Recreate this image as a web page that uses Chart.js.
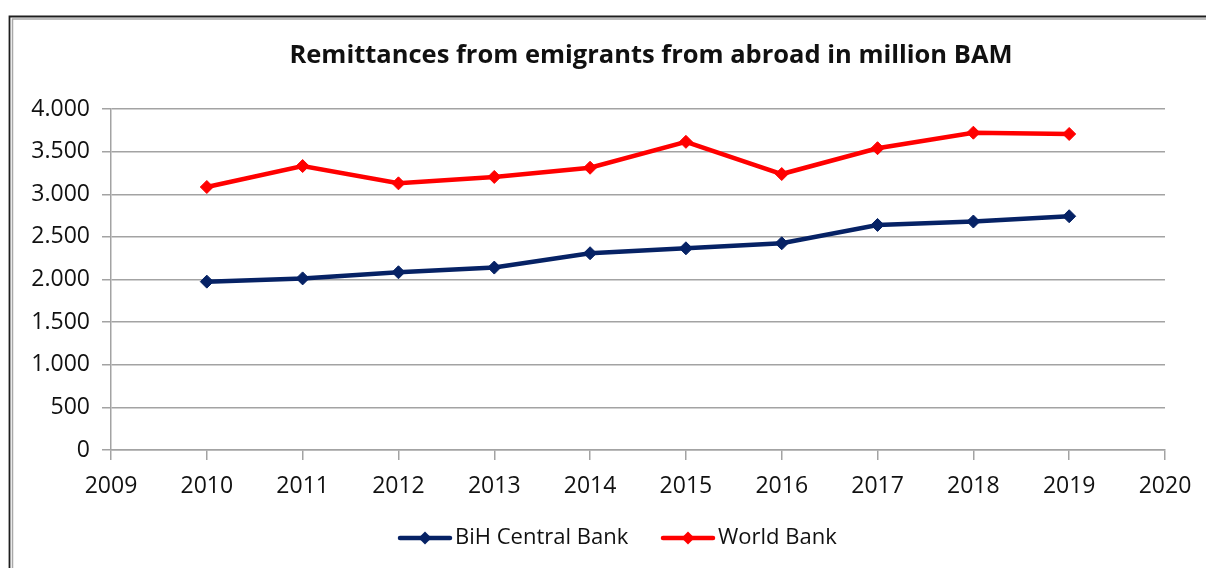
<!DOCTYPE html>
<html>
<head>
<meta charset="utf-8">
<style>
  html, body { margin: 0; padding: 0; background: #ffffff; }
  #wrap { width: 1206px; height: 568px; position: relative; }
</style>
<script src="https://cdn.jsdelivr.net/npm/chart.js@4/dist/chart.umd.min.js"></script>
</head>
<body>
<div id="wrap"><canvas id="chart" width="1206" height="568"></canvas></div>
<script>
// Remittances from emigrants from abroad, million BAM
const years = [2010, 2011, 2012, 2013, 2014, 2015, 2016, 2017, 2018, 2019];
const centralBank = [1975, 2013, 2085, 2140, 2308, 2366, 2425, 2640, 2680, 2742];
const worldBank = [3085, 3331, 3128, 3203, 3311, 3615, 3237, 3540, 3722, 3707];
const seriesNames = ['BiH Central Bank', 'World Bank'];
const titleText = 'Remittances from emigrants from abroad in million BAM';
const xMin = 2009, xMax = 2020;
const yMin = 0, yMax = 4000, yStep = 500;

const FONT = '"Open Sans", "DejaVu Sans", sans-serif';
const NAVY = '#062265';
const RED = '#ff0000';
const GRID = '#a3a3a3';

const toPoints = vals => years.map((y, i) => ({ x: y, y: vals[i] }));
const thousands = v => {
  const s = String(Math.round(v));
  return s.replace(/\B(?=(\d{3})+(?!\d))/g, '.');
};

// Frame edges (left and top) around the chart object, plus the title
const framePlugin = {
  id: 'frame',
  beforeDraw(chart) {
    const ctx = chart.ctx;
    ctx.save();
    ctx.fillStyle = '#ffffff';
    ctx.fillRect(0, 0, chart.width, chart.height);
    // light inner edge
    ctx.strokeStyle = '#a8a8a8';
    ctx.lineWidth = 1.5;
    ctx.beginPath();
    ctx.moveTo(12.5, chart.height);
    ctx.lineTo(12.5, 19);
    ctx.lineTo(chart.width, 19);
    ctx.stroke();
    // dark outer edge
    ctx.strokeStyle = '#1e1e1e';
    ctx.lineWidth = 1.8;
    ctx.beginPath();
    ctx.moveTo(9.5, chart.height);
    ctx.lineTo(9.5, 16.5);
    ctx.lineTo(chart.width, 16.5);
    ctx.stroke();
    // title
    ctx.fillStyle = '#111111';
    ctx.font = 'bold 25.5px ' + FONT;
    ctx.textAlign = 'center';
    ctx.textBaseline = 'middle';
    ctx.fillText(titleText, 651, 56);
    ctx.restore();
  }
};

// Legend below the axis: line sample with a diamond, then the series name
const legendPlugin = {
  id: 'lineDiamondLegend',
  afterDraw(chart) {
    const ctx = chart.ctx;
    const y = 538;
    const items = [
      { x: 400, ds: chart.data.datasets[0] },
      { x: 663, ds: chart.data.datasets[1] }
    ];
    ctx.save();
    items.forEach(it => {
      ctx.strokeStyle = it.ds.borderColor;
      ctx.lineWidth = 4.5;
      ctx.lineCap = 'round';
      ctx.beginPath();
      ctx.moveTo(it.x, y);
      ctx.lineTo(it.x + 50, y);
      ctx.stroke();
      ctx.fillStyle = it.ds.borderColor;
      const cx = it.x + 25, r = 6.5;
      ctx.beginPath();
      ctx.moveTo(cx - r, y);
      ctx.lineTo(cx, y - r);
      ctx.lineTo(cx + r, y);
      ctx.lineTo(cx, y + r);
      ctx.closePath();
      ctx.fill();
      ctx.fillStyle = '#111111';
      ctx.font = '22px ' + FONT;
      ctx.textBaseline = 'middle';
      ctx.textAlign = 'left';
      ctx.fillText(it.ds.label, it.x + 55, y);
    });
    ctx.restore();
  }
};

const ds = (label, vals, color) => ({
  label,
  data: toPoints(vals),
  borderColor: color,
  backgroundColor: color,
  borderWidth: 4.5,
  pointStyle: 'rectRot',
  pointRadius: 6.5,
  pointHoverRadius: 6.5,
  pointBorderWidth: 1,
  pointBackgroundColor: color,
  pointBorderColor: color,
  tension: 0
});

new Chart(document.getElementById('chart'), {
  type: 'line',
  data: {
    datasets: [
      ds(seriesNames[0], centralBank, NAVY),
      ds(seriesNames[1], worldBank, RED)
    ]
  },
  options: {
    responsive: false,
    animation: false,
    devicePixelRatio: 1,
    layout: { padding: { left: 20, right: 41, top: 109, bottom: 58 } },
    plugins: {
      legend: { display: false },
      tooltip: { enabled: false },
      title: { display: false }
    },
    scales: {
      x: {
        type: 'linear',
        min: xMin,
        max: xMax,
        afterFit(scale) { scale.height = 60; },
        ticks: {
          stepSize: 1,
          autoSkip: false,
          maxRotation: 0,
          padding: 13,
          color: '#111111',
          font: { family: FONT, size: 23 },
          callback: v => String(v)
        },
        grid: {
          drawOnChartArea: false,
          drawTicks: true,
          tickLength: 10,
          color: GRID,
          lineWidth: 1.5
        },
        border: { display: true, color: GRID, width: 1.5 }
      },
      y: {
        min: yMin,
        max: yMax,
        afterFit(scale) { scale.width = 91; },
        ticks: {
          stepSize: yStep,
          padding: 12,
          color: '#111111',
          font: { family: FONT, size: 23 },
          callback: v => thousands(v)
        },
        grid: {
          color: GRID,
          lineWidth: 1.5,
          tickLength: 9,
          drawTicks: true
        },
        border: { display: true, color: GRID, width: 1.5 }
      }
    }
  },
  plugins: [framePlugin, legendPlugin]
});
</script>
</body>
</html>
